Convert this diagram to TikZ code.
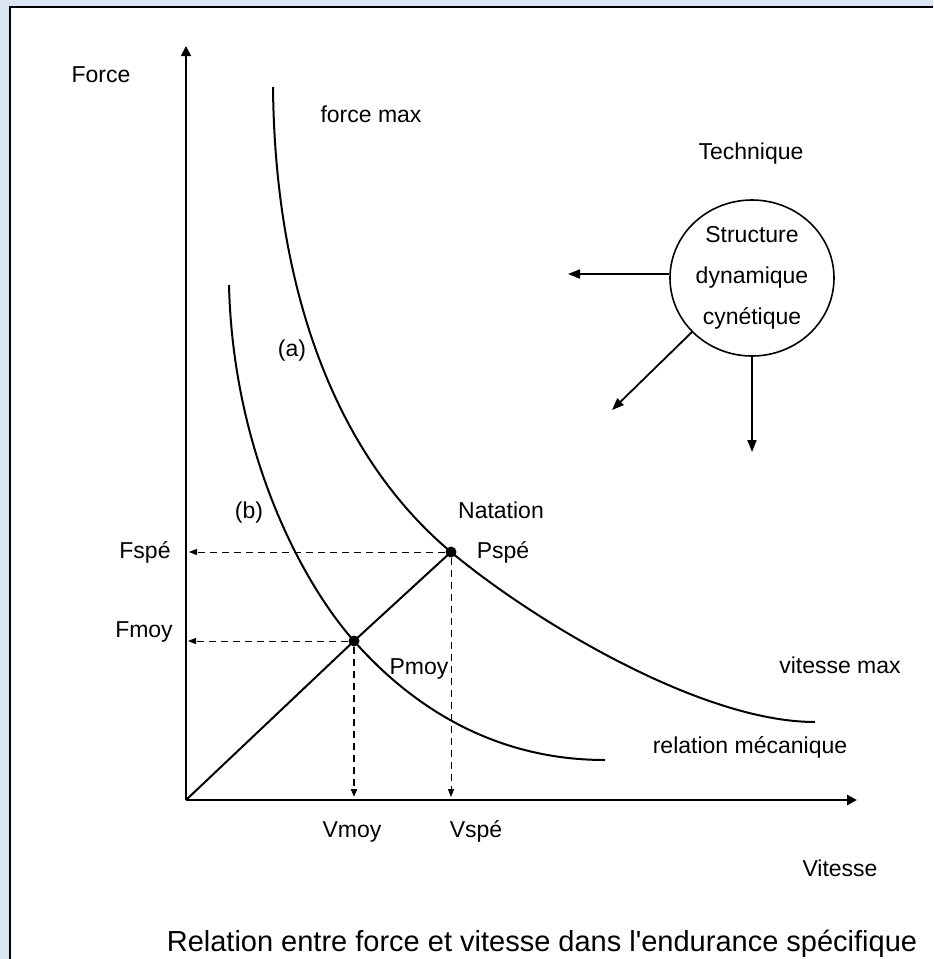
\documentclass[tikz,border=0pt]{standalone}
\usepackage{fontspec}
\setmainfont{Liberation Sans}[Ligatures=TeXOff]
\usetikzlibrary{arrows.meta,shapes.geometric}
\definecolor{fond}{RGB}{220,230,242}

\begin{document}
\begin{tikzpicture}[x=0.5pt,y=-0.5pt,
        txt/.style={font=\fontsize{11.5}{14}\selectfont,inner sep=0pt,anchor=base},
        courbe/.style={line width=1pt},
        axe/.style={-{Triangle[length=5pt,width=5pt]}},
        pointille/.style={dash pattern=on 3.5pt off 2.5pt,line width=0.5pt,-{Triangle[length=4pt,width=3pt]}},
        fleche/.style={line width=0.9pt,-{Triangle[length=6pt,width=4.5pt]}},
        point/.style={circle,fill,inner sep=0pt,minimum size=5.5pt}]
    \path[fill=fond,use as bounding box] (0,0) rectangle (933,959);
    \clip (0,0) rectangle (933,959);
    \draw[line width=1.3pt,fill=white] (10,7) rectangle (960,990);

    \coordinate (O) at (186,800);
    \coordinate (Fhaut) at (186,46);
    \coordinate (Vdroite) at (857,800);
    \draw[axe,line width=0.8pt] (O) -- (Fhaut);
    \draw[axe,line width=1.3pt] (O) -- (Vdroite);

    \node[point] (Pspe) at (451,552) {};
    \node[point] (Pmoy) at (354,641) {};
    \coordinate (Ahaut) at (273,87);
    \coordinate (Abas) at (815,722);
    \coordinate (Bhaut) at (229,285);
    \coordinate (Bbas) at (605,760);
    \draw[courbe] (Ahaut) .. controls (275,300) and (341,460) .. (Pspe.center)
        .. controls (531,619) and (700,722) .. (Abas);
    \draw[courbe] (Bhaut) .. controls (233,450) and (300,580) .. (Pmoy.center)
        .. controls (399,692) and (480,760) .. (Bbas);
    \draw[courbe] (O) -- (Pmoy.center) -- (Pspe.center);

    \coordinate (Fspe) at (189,552);
    \coordinate (Fmoy) at (188,641);
    \coordinate (Vspe) at (451,797);
    \coordinate (Vmoy) at (354,797);
    \draw[pointille] (Pspe) -- (Fspe);
    \draw[pointille] (Pmoy) -- (Fmoy);
    \draw[pointille] (Pspe) -- (Vspe);
    \draw[pointille,line width=1pt] (Pmoy) -- (Vmoy);

    \node[draw,ellipse,line width=0.8pt,minimum width=82pt,minimum height=78pt,inner sep=0pt,
        align=center,font=\fontsize{11.5}{20.5}\selectfont] (structure) at (752,278)
        {Structure\\dynamique\\cynétique};
    \coordinate (gauche) at (568,274);
    \coordinate (bas) at (612,410);
    \coordinate (dessous) at (752,452);
    \draw[fleche] (structure.west |- gauche) -- (gauche);
    \draw[fleche] (structure.222) -- (bas);
    \draw[fleche] (structure.south) -- (dessous);

    \node[txt] (force) at (101,82) {Force};
    \node[txt] (forcemax) at (371,122) {force max};
    \node[txt] (technique) at (751,159) {Technique};
    \node[txt] (a) at (292,356) {(a)};
    \node[txt] (b) at (249,518) {(b)};
    \node[txt] (natation) at (501,518) {Natation};
    \node[txt] (fspe) at (145,558) {Fspé};
    \node[txt] (pspe) at (503,558) {Pspé};
    \node[txt] (fmoy) at (144,637) {Fmoy};
    \node[txt] (pmoy) at (419,674) {Pmoy};
    \node[txt] (vitessemax) at (840,673) {vitesse max};
    \node[txt] (relation) at (750,753) {relation mécanique};
    \node[txt] (vmoy) at (352,837) {Vmoy};
    \node[txt] (vspe) at (476,837) {Vspé};
    \node[txt] (vitesse) at (840,876) {Vitesse};
    \node[txt,font=\fontsize{14.5}{17}\selectfont] (titre) at (542,951)
        {Relation entre force et vitesse dans l'endurance spécifique};
\end{tikzpicture}
\end{document}
